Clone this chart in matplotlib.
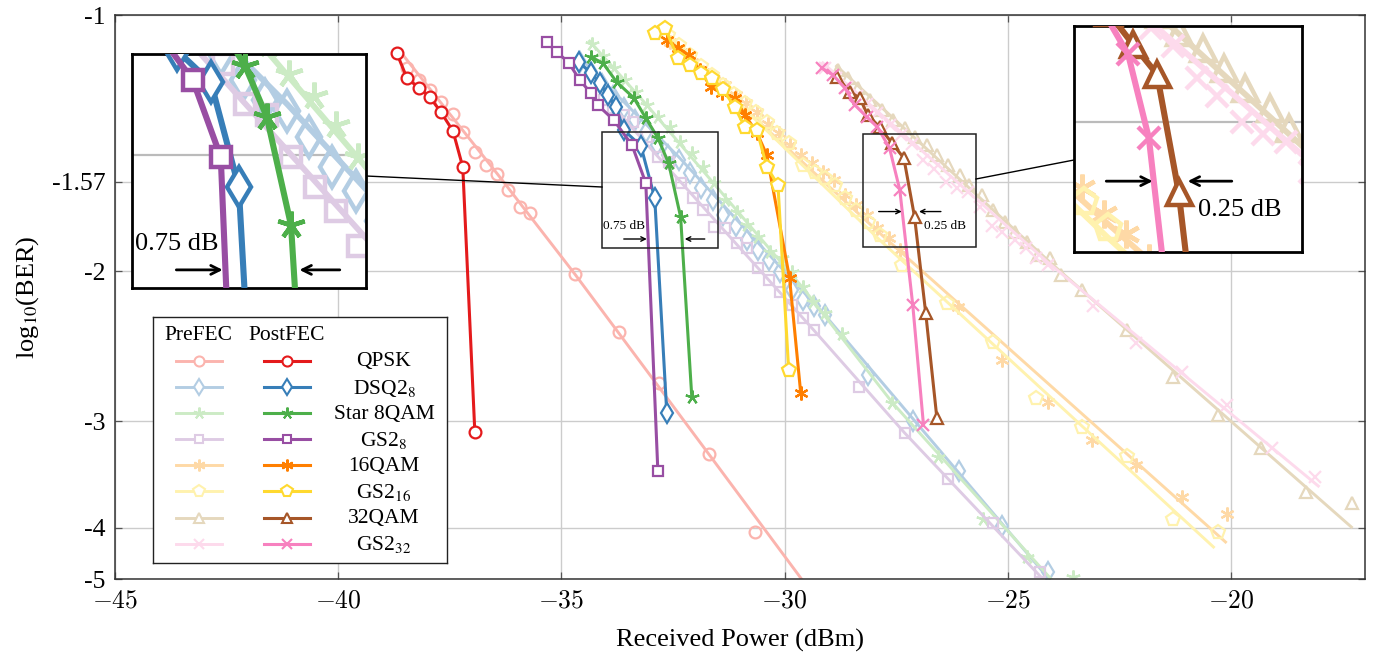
import numpy as np
import matplotlib
matplotlib.use('Agg')
import matplotlib.pyplot as plt
from matplotlib.lines import Line2D
from matplotlib.patches import Rectangle

plt.rcParams['font.family'] = ['Liberation Serif', 'DejaVu Serif']
plt.rcParams['mathtext.fontset'] = 'stix'

# ---------------- data ----------------
names = ['QPSK', 'DSQ2$_8$', 'Star 8QAM', 'GS2$_8$', '16QAM', 'GS2$_{16}$', '32QAM', 'GS2$_{32}$']

qpsk_post_x = [-38.69, -38.46, -38.19, -37.95, -37.70, -37.43, -37.21, -36.94]
qpsk_post_y = [-1.108, -1.186, -1.218, -1.248, -1.300, -1.368, -1.508, -3.086]
qpsk_pre_x = [-38.46, -38.19, -37.95, -37.70, -37.43, -37.21, -36.94, -36.69, -36.45, -36.20, -35.93, -35.71,
              -34.70, -33.72, -32.82, -31.70, -30.67]
qpsk_pre_y = [-1.154, -1.192, -1.225, -1.265, -1.307, -1.372, -1.448, -1.500, -1.537, -1.605, -1.680, -1.708,
              -2.014, -2.356, -2.704, -3.276, -4.045]
qpsk_fit_x = [-38.55, -36.45, -34.70, -31.70, -29.44]
qpsk_fit_y = [-1.114, -1.533, -2.014, -3.276, -4.730]

dsq_post_x = [-34.61, -34.34, -34.14, -33.96, -33.78, -33.60, -33.22, -32.91, -32.64]
dsq_post_y = [-1.135, -1.170, -1.202, -1.241, -1.282, -1.365, -1.425, -1.640, -2.932]
dsq_pre_x = [-34.59, -34.34, -34.10, -33.85, -33.60, -33.36, -33.11, -32.86, -32.62, -32.37, -32.13, -31.88,
             -31.61, -31.37, -31.10, -30.85, -30.60, -30.36, -30.11, -29.84, -29.59, -29.35, -29.10, -28.14,
             -27.13, -26.10, -25.12, -24.09]
dsq_pre_y = [-1.135, -1.167, -1.205, -1.245, -1.286, -1.328, -1.372, -1.421, -1.460, -1.480, -1.533, -1.596,
             -1.649, -1.717, -1.769, -1.837, -1.888, -1.939, -2.003, -2.103, -2.160, -2.196, -2.250, -2.646,
             -2.996, -3.430, -3.979, -4.506]
dsq_fit_x = [-34.63, -32.37, -29.10, -24.00]
dsq_fit_y = [-1.117, -1.468, -2.250, -4.643]

star_post_x = [-34.34, -34.07, -33.76, -33.38, -33.11, -32.84, -32.60, -32.33, -32.08]
star_post_y = [-1.120, -1.139, -1.199, -1.251, -1.321, -1.394, -1.492, -1.726, -2.808]
star_pre_x = [-34.32, -34.07, -33.83, -33.58, -33.33, -33.09, -32.84, -32.57, -32.35, -32.08, -31.83, -31.59,
              -31.34, -31.07, -30.85, -30.60, -30.33, -30.07, -29.84, -29.59, -29.37, -29.10, -28.72, -27.60,
              -26.57, -25.56, -24.58, -23.55]
star_pre_y = [-1.082, -1.117, -1.154, -1.192, -1.231, -1.275, -1.317, -1.354, -1.409, -1.452, -1.508, -1.575,
              -1.649, -1.703, -1.764, -1.822, -1.897, -1.929, -2.003, -2.086, -2.172, -2.238, -2.368, -2.854,
              -3.302, -3.905, -4.327, -4.567]
star_fit_x = [-34.39, -33.09, -29.59, -27.58, -23.95]
star_fit_y = [-1.070, -1.275, -2.091, -2.854, -4.643]

gs8_post_x = [-35.33, -35.10, -34.83, -34.59, -34.34, -34.19, -33.83, -33.42, -33.11, -32.84]
gs8_post_y = [-1.076, -1.105, -1.139, -1.192, -1.235, -1.275, -1.328, -1.421, -1.575, -3.430]
gs8_pre_x = [-34.05, -33.85, -33.60, -33.40, -33.09, -32.84, -32.60, -32.33, -32.06, -31.83, -31.59, -31.34,
             -31.07, -30.85, -30.60, -30.36, -30.11, -29.84, -29.59, -29.35, -28.34, -27.31, -26.33, -25.34,
             -24.29]
gs8_pre_y = [-1.258, -1.286, -1.310, -1.335, -1.391, -1.468, -1.488, -1.575, -1.640, -1.694, -1.774, -1.778,
             -1.852, -1.877, -1.981, -2.047, -2.114, -2.190, -2.268, -2.343, -2.733, -3.095, -3.504, -3.947,
             -4.506]
gs8_fit_x = [-34.14, -30.60, -29.35, -27.31, -24.13]
gs8_fit_y = [-1.231, -1.981, -2.343, -3.095, -4.643]

q16_post_x = [-32.64, -32.39, -32.15, -31.90, -31.65, -31.41, -31.12, -30.89, -30.62, -30.40, -29.89, -29.64]
q16_post_y = [-1.070, -1.093, -1.114, -1.160, -1.215, -1.235, -1.251, -1.310, -1.375, -1.460, -2.036, -2.778]
q16_pre_x = [-32.57, -32.33, -32.08, -31.83, -31.59, -31.34, -31.10, -30.87, -30.62, -30.38, -30.13, -29.89,
             -29.64, -29.39, -29.15, -28.90, -28.65, -28.41, -28.16, -27.92, -27.67, -27.42, -26.12, -25.12,
             -24.11, -23.12, -22.14, -21.11, -20.10]
q16_pre_y = [-1.076, -1.105, -1.135, -1.167, -1.192, -1.208, -1.241, -1.268, -1.300, -1.343, -1.376, -1.421,
             -1.460, -1.492, -1.529, -1.562, -1.627, -1.671, -1.717, -1.778, -1.827, -1.888, -2.202, -2.541,
             -2.846, -3.154, -3.374, -3.679, -3.852]
q16_fit_x = [-32.62, -27.87, -20.10]
q16_fit_y = [-1.064, -1.803, -4.166]

gs16_post_x = [-32.91, -32.68, -32.39, -32.12, -31.88, -31.63, -31.39, -31.12, -30.89, -30.62, -30.40, -30.15,
               -29.91]
gs16_post_y = [-1.050, -1.036, -1.123, -1.145, -1.170, -1.186, -1.221, -1.282, -1.354, -1.365, -1.508, -1.583,
               -2.610]
gs16_pre_x = [-32.62, -32.37, -32.13, -31.88, -31.63, -31.39, -31.14, -30.89, -30.65, -30.40, -30.16, -29.91,
              -29.59, -29.33, -29.10, -28.88, -28.65, -28.41, -28.14, -27.87, -27.36, -26.37, -25.34, -24.36,
              -23.35, -22.34, -21.31, -20.30]
gs16_pre_y = [-1.056, -1.084, -1.114, -1.148, -1.176, -1.208, -1.238, -1.268, -1.300, -1.335, -1.376, -1.413,
              -1.500, -1.529, -1.553, -1.583, -1.640, -1.694, -1.750, -1.812, -1.965, -2.178, -2.420, -2.815,
              -3.045, -3.293, -3.905, -4.045]
gs16_fit_x = [-32.68, -27.87, -20.37]
gs16_fit_y = [-1.047, -1.837, -4.223]

q32_post_x = [-28.83, -28.54, -28.32, -28.14, -27.87, -27.60, -27.33, -27.09, -26.84, -26.59]
q32_post_y = [-1.182, -1.231, -1.251, -1.310, -1.354, -1.413, -1.472, -1.726, -2.238, -2.972]
q32_pre_x = [-28.81, -28.59, -28.36, -28.09, -27.83, -27.58, -27.31, -27.09, -26.82, -26.59, -26.35, -26.08,
             -25.86, -25.59, -25.34, -25.07, -24.85, -24.58, -24.33, -24.06, -23.80, -23.35, -22.34, -21.31,
             -20.30, -19.32, -18.33, -17.28]
q32_pre_y = [-1.160, -1.186, -1.218, -1.258, -1.293, -1.328, -1.357, -1.391, -1.421, -1.460, -1.500, -1.541,
             -1.583, -1.627, -1.694, -1.750, -1.798, -1.847, -1.913, -1.929, -2.019, -2.103, -2.343, -2.660,
             -2.948, -3.223, -3.630, -3.739]
q32_fit_x = [-28.86, -24.06, -17.28]
q32_fit_y = [-1.145, -1.950, -4.001]

gs32_post_x = [-29.17, -28.92, -28.65, -28.43, -28.16, -27.92, -27.65, -27.42, -27.13, -26.89]
gs32_post_y = [-1.154, -1.176, -1.218, -1.275, -1.317, -1.354, -1.433, -1.605, -2.190, -3.028]
gs32_pre_x = [-29.10, -28.86, -28.61, -28.39, -28.16, -27.92, -27.65, -27.40, -27.15, -26.89, -26.66, -26.39,
              -26.15, -25.90, -25.63, -25.36, -25.12, -24.85, -24.60, -24.36, -24.11, -23.10, -22.12, -21.11,
              -20.10, -19.09, -18.13]
gs32_pre_y = [-1.154, -1.186, -1.215, -1.245, -1.272, -1.303, -1.346, -1.383, -1.417, -1.480, -1.516, -1.571,
              -1.596, -1.614, -1.680, -1.769, -1.798, -1.837, -1.877, -1.929, -1.965, -2.196, -2.427, -2.625,
              -2.869, -3.223, -3.485]
gs32_fit_x = [-29.17, -24.11, -18.02]
gs32_fit_y = [-1.135, -1.950, -3.581]

x_ticks = [-45, -40, -35, -30, -25, -20]
y_ticks = [-1, -1.57, -2, -3, -4, -4.592]
y_tick_labels = ['-1', '-1.57', '-2', '-3', '-4', '-5']

# ---------------- styles ----------------
post_colors = ['#e41a1c', '#377eb8', '#4daf4a', '#984ea3', '#ff7f00', '#ffd92f', '#a65628', '#f781bf']
pre_colors = ['#fbb4ae', '#b3cde3', '#ccebc5', '#decbe4', '#fed9a6', '#fff2ae', '#e5d8bd', '#fddaec']
markers = ['o', 'd', (5, 2, 0), 's', (6, 2, 0), 'p', '^', 'x']
msizes = [8.5, 10, 10, 7.5, 10, 10, 9, 8]

series = [
    (qpsk_pre_x, qpsk_pre_y, qpsk_post_x, qpsk_post_y, qpsk_fit_x, qpsk_fit_y),
    (dsq_pre_x, dsq_pre_y, dsq_post_x, dsq_post_y, dsq_fit_x, dsq_fit_y),
    (star_pre_x, star_pre_y, star_post_x, star_post_y, star_fit_x, star_fit_y),
    (gs8_pre_x, gs8_pre_y, gs8_post_x, gs8_post_y, gs8_fit_x, gs8_fit_y),
    (q16_pre_x, q16_pre_y, q16_post_x, q16_post_y, q16_fit_x, q16_fit_y),
    (gs16_pre_x, gs16_pre_y, gs16_post_x, gs16_post_y, gs16_fit_x, gs16_fit_y),
    (q32_pre_x, q32_pre_y, q32_post_x, q32_post_y, q32_fit_x, q32_fit_y),
    (gs32_pre_x, gs32_pre_y, gs32_post_x, gs32_post_y, gs32_fit_x, gs32_fit_y),
]

W, H = 1385, 654
fig = plt.figure(figsize=(W / 100, H / 100), dpi=100)


def fbox(x0, y0, x1, y1):
    return [x0 / W, 1 - y1 / H, (x1 - x0) / W, (y1 - y0) / H]


def fwd(y):
    return -np.log(np.clip(-np.asarray(y, dtype=float), 1e-6, None))


def inv(t):
    return -np.exp(-np.asarray(t, dtype=float))


def draw_series(ax, k):
    for i, (prx, pry, pox, poy, fx, fy) in enumerate(series):
        ax.plot(fx, fy, color=pre_colors[i], lw=2.1 * k, zorder=2, solid_capstyle='butt')
        ax.plot(prx, pry, ls='none', marker=markers[i], ms=msizes[i] * k, mec=pre_colors[i],
                mfc='none', mew=1.6 * k, zorder=2)
    for i, (prx, pry, pox, poy, fx, fy) in enumerate(series):
        ax.plot(pox, poy, color=post_colors[i], lw=2.2 * k, marker=markers[i], ms=msizes[i] * k,
                mec=post_colors[i], mfc='white', mew=1.6 * k, zorder=3)


def draw_annot(ax, k):
    ap = dict(arrowstyle='->', lw=1.0 * k, color='k', shrinkA=0, shrinkB=0, mutation_scale=8 * k)
    ax.annotate('', xy=(-33.088, -1.832), xytext=(-33.603, -1.832), arrowprops=ap, zorder=6)
    ax.annotate('', xy=(-32.237, -1.832), xytext=(-31.789, -1.832), arrowprops=ap, zorder=6)
    ax.text(-33.603, -1.769, '0.75 dB', fontsize=9.5 * k, ha='center', va='center', zorder=6,
            clip_on=True)
    ax.annotate('', xy=(-27.378, -1.701), xytext=(-27.893, -1.701), arrowprops=ap, zorder=6)
    ax.annotate('', xy=(-26.99, -1.701), xytext=(-26.50, -1.701), arrowprops=ap, zorder=6)
    ax.text(-26.415, -1.769, '0.25 dB', fontsize=9.5 * k, ha='center', va='center', zorder=6,
            clip_on=True)


# ---------------- main axes ----------------
ax = fig.add_axes(fbox(115, 15, 1365, 579))
ax.set_yscale('function', functions=(fwd, inv))
draw_series(ax, 1.0)
draw_annot(ax, 1.0)
ax.set_xticks(x_ticks)
ax.set_xticklabels([r'$-%d$' % abs(v) for v in x_ticks])
for lbl in ax.get_xticklabels():
    lbl.set_math_fontfamily('cm')
ax.set_yticks(y_ticks)
ax.set_yticklabels(y_tick_labels)
ax.yaxis.set_minor_locator(matplotlib.ticker.NullLocator())
ax.set_xlim(-45, -17)
ax.set_ylim(-4.592, -1)
ax.grid(True, color='#cccccc', lw=1.0, zorder=0)
ax.set_axisbelow(True)
ax.tick_params(direction='in', length=5, width=0.9, colors='#555555', labelcolor='black',
               labelsize=18.5, top=True, right=True)
ax.tick_params(axis='x', pad=8)
ax.tick_params(axis='y', pad=7)
for s in ax.spines.values():
    s.set_color('#333333')
    s.set_linewidth(1.1)
ax.set_xlabel('Received Power (dBm)', fontsize=19, labelpad=12)
ax.set_ylabel('log$_{10}$(BER)', fontsize=19, labelpad=8)

# zoom rectangles
left_zoom = (-34.095, -31.498, -1.877, -1.372)
right_zoom = (-28.251, -25.721, -1.872, -1.379)
for (x0, x1, y0, y1) in (left_zoom, right_zoom):
    ax.add_patch(Rectangle((x0, y0), x1 - x0, y1 - y0, fill=False, ec='#222222', lw=1.1, zorder=6))

# connector lines
fig.add_artist(Line2D([366 / W, 602 / W], [1 - 176 / H, 1 - 187 / H], color='k', lw=1.0, zorder=3))
fig.add_artist(Line2D([976 / W, 1074 / W], [1 - 179 / H, 1 - 160 / H], color='k', lw=1.0, zorder=3))

# ---------------- insets ----------------
for box, (x0, x1, y0, y1) in ((fbox(132, 54, 366, 288), left_zoom), (fbox(1074, 26, 1302, 252), right_zoom)):
    ai = fig.add_axes(box)
    ai.set_zorder(5)
    ai.set_yscale('function', functions=(fwd, inv))
    draw_series(ai, 2.0)
    draw_annot(ai, 2.0)
    ai.set_xticks(x_ticks)
    ai.set_yticks(y_ticks)
    ai.yaxis.set_minor_locator(matplotlib.ticker.NullLocator())
    ai.set_xlim(x0, x1)
    ai.set_ylim(y0, y1)
    ai.grid(True, color='#bbbbbb', lw=1.6, zorder=0)
    ai.set_axisbelow(True)
    ai.tick_params(length=0, labelbottom=False, labelleft=False)
    ai.set_facecolor('white')
    for s in ai.spines.values():
        s.set_color('black')
        s.set_linewidth(2.0)

# ---------------- legend ----------------
al = fig.add_axes(fbox(153, 317, 447, 563))
al.set_zorder(5)
al.set_xlim(153, 447)
al.set_ylim(563, 317)
al.set_xticks([])
al.set_yticks([])
for s in al.spines.values():
    s.set_color('#222222')
    s.set_linewidth(1.0)
al.text(198, 336, 'PreFEC', fontsize=15.5, ha='center', va='center')
al.text(287, 336, 'PostFEC', fontsize=15.5, ha='center', va='center')
for i, nm in enumerate(names):
    yy = 361 + i * 26.1
    al.plot([176, 222], [yy, yy], color=pre_colors[i], lw=2.1)
    al.plot([199], [yy], marker=markers[i], ms=msizes[i] * 0.85, mec=pre_colors[i], mfc='white', mew=1.5)
    al.plot([264, 310], [yy, yy], color=post_colors[i], lw=2.2)
    al.plot([287], [yy], marker=markers[i], ms=msizes[i] * 0.85, mec=post_colors[i], mfc='white', mew=1.5)
    al.text(384, yy + 1, nm, fontsize=15.5, ha='center', va='center')

fig.savefig('out.png', dpi=100)
